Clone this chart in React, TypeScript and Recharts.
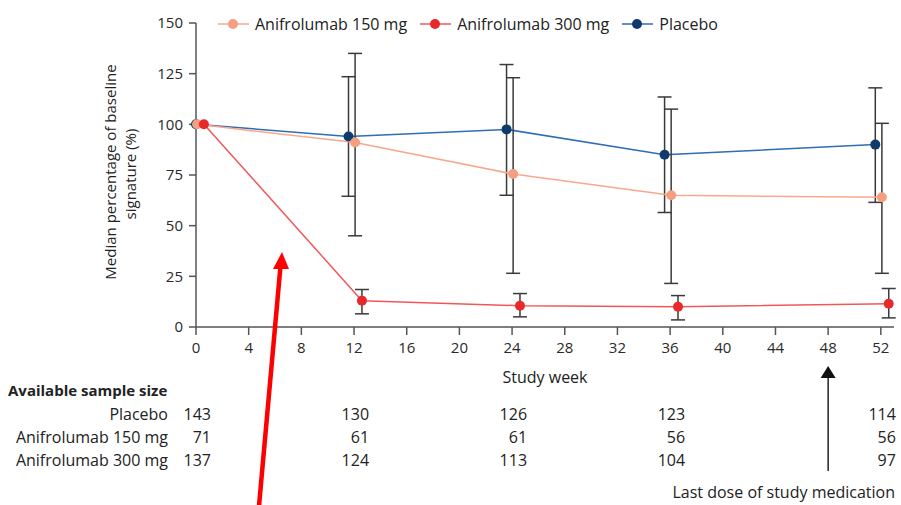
import React from 'react';
import { ComposedChart, Line, XAxis, YAxis, ErrorBar, Legend } from 'recharts';

const weeks = [0, 12, 24, 36, 52];
const xTicks = [0, 4, 8, 12, 16, 20, 24, 28, 32, 36, 40, 44, 48, 52];
const yTicks = [0, 25, 50, 75, 100, 125, 150];

const placeboMedian = [100, 94, 97.5, 85, 90];
const placeboLow = [null, 64.5, 65, 56.5, 61.5];
const placeboHigh = [null, 123.5, 129.5, 113.5, 118];

const a150Median = [100, 91, 75.5, 65, 64];
const a150Low = [null, 45, 26.5, 21.5, 26.5];
const a150High = [null, 135, 123, 107.5, 100.5];

const a300Median = [100, 13, 10.5, 10, 11.5];
const a300Low = [null, 6.5, 5, 3.5, 4.5];
const a300High = [null, 18.5, 16.5, 15.5, 19];

const nPlacebo = ['143', '130', '126', '123', '114'];
const n150 = ['71', '61', '61', '56', '56'];
const n300 = ['137', '124', '113', '104', '97'];

const lastDoseWeek = 48;

// style constants
const W = 901;
const H = 505;
const PLOT_LEFT = 196;
const PLOT_RIGHT = 894;
const PLOT_TOP = 23;
const PLOT_BOTTOM = 327;
const X_MAX = 53;
const FONT = "'Open Sans', 'Noto Sans', sans-serif";

const xScale = (w: number) => PLOT_LEFT + (w / X_MAX) * (PLOT_RIGHT - PLOT_LEFT);

const COLORS = {
  placebo: { line: '#2f6db5', dot: '#0f3a6c' },
  a150: { line: '#f8a88c', dot: '#f59f80' },
  a300: { line: '#f25757', dot: '#e8292b' },
};

const build = (
  median: number[],
  low: (number | null)[],
  high: (number | null)[],
  offset: number
) =>
  weeks.map((w, i) => {
    const lo = low[i];
    const hi = high[i];
    return {
      x: Math.max(0, w + offset),
      y: median[i],
      err: lo == null || hi == null ? undefined : [median[i] - lo, hi - median[i]],
    };
  });

const placeboData = build(placeboMedian, placeboLow, placeboHigh, -0.42);
const a150Data = build(a150Median, a150Low, a150High, 0.08);
const a300Data = build(a300Median, a300Low, a300High, 0.6);

const legendItems = [
  { label: 'Anifrolumab 150 mg', c: COLORS.a150 },
  { label: 'Anifrolumab 300 mg', c: COLORS.a300 },
  { label: 'Placebo', c: COLORS.placebo },
];

const LegendContent = () => (
  <div style={{ display: 'flex', alignItems: 'center', fontFamily: FONT, fontSize: 16, color: '#222', lineHeight: '20px' }}>
    {legendItems.map((it) => (
      <div key={it.label} style={{ display: 'flex', alignItems: 'center', marginRight: 13 }}>
        <svg width={31} height={12} style={{ marginRight: 6 }}>
          <line x1={0} y1={6} x2={31} y2={6} stroke={it.c.line} strokeWidth={1.5} />
          <circle cx={15} cy={6} r={5} fill={it.c.dot} />
        </svg>
        <span style={{ whiteSpace: 'nowrap' }}>{it.label}</span>
      </div>
    ))}
  </div>
);

const axisStroke = '#555';
const tickStyle = { fontSize: 15, fill: '#2a2a2a', fontFamily: FONT };

const rows = [
  { label: 'Placebo', values: nPlacebo },
  { label: 'Anifrolumab 150 mg', values: n150 },
  { label: 'Anifrolumab 300 mg', values: n300 },
];

export default function App() {
  return (
    <div style={{ position: 'absolute', left: 0, top: 0, width: W, height: H, background: '#fff', fontFamily: FONT }}>
      <ComposedChart
        width={W}
        height={H}
        margin={{ top: PLOT_TOP, right: W - PLOT_RIGHT, bottom: H - PLOT_BOTTOM - 30, left: PLOT_LEFT - 60 }}
      >
        <XAxis
          dataKey="x"
          type="number"
          domain={[0, X_MAX]}
          ticks={xTicks}
          interval={0}
          height={30}
          stroke={axisStroke}
          strokeWidth={1.5}
          tickSize={8}
          tickMargin={7}
          tick={tickStyle}
          allowDuplicatedCategory={false}
        />
        <YAxis
          type="number"
          domain={[0, 150]}
          ticks={yTicks}
          interval={0}
          width={60}
          stroke={axisStroke}
          strokeWidth={1.5}
          tickSize={7}
          tickMargin={6}
          tick={tickStyle}
        />
        <Legend
          verticalAlign="middle"
          align="center"
          wrapperStyle={{ top: 14, left: 218, width: 600 }}
          content={LegendContent}
        />
        <Line
          data={placeboData}
          dataKey="y"
          name="Placebo"
          stroke={COLORS.placebo.line}
          strokeWidth={1.5}
          dot={{ r: 5, fill: COLORS.placebo.dot, stroke: 'none' }}
          isAnimationActive={false}
        >
          <ErrorBar dataKey="err" direction="y" width={7} stroke="#3a3a3a" strokeWidth={1.5} />
        </Line>
        <Line
          data={a150Data}
          dataKey="y"
          name="Anifrolumab 150 mg"
          stroke={COLORS.a150.line}
          strokeWidth={1.5}
          dot={{ r: 5, fill: COLORS.a150.dot, stroke: 'none' }}
          isAnimationActive={false}
        >
          <ErrorBar dataKey="err" direction="y" width={7} stroke="#3a3a3a" strokeWidth={1.5} />
        </Line>
        <Line
          data={a300Data}
          dataKey="y"
          name="Anifrolumab 300 mg"
          stroke={COLORS.a300.line}
          strokeWidth={1.5}
          dot={{ r: 5, fill: COLORS.a300.dot, stroke: 'none' }}
          isAnimationActive={false}
        >
          <ErrorBar dataKey="err" direction="y" width={7} stroke="#3a3a3a" strokeWidth={1.5} />
        </Line>
      </ComposedChart>

      <svg
        width={W}
        height={H}
        style={{ position: 'absolute', left: 0, top: 0, pointerEvents: 'none', fontFamily: FONT }}
      >
        <text
          transform="translate(110,172) rotate(-90)"
          textAnchor="middle"
          dominantBaseline="central"
          fontSize={15}
          fill="#222"
        >
          Median percentage of baseline
        </text>
        <text
          transform="translate(130,174) rotate(-90)"
          textAnchor="middle"
          dominantBaseline="central"
          fontSize={15}
          fill="#222"
        >
          signature (%)
        </text>
        <text x={545} y={383} textAnchor="middle" fontSize={16} fill="#222">
          Study week
        </text>

        <text x={8} y={396} fontSize={15} fontWeight="bold" fill="#222">
          Available sample size
        </text>
        {rows.map((r, ri) => (
          <g key={r.label}>
            <text x={168} y={420 + ri * 23} textAnchor="end" fontSize={16} fill="#222">
              {r.label}
            </text>
            {r.values.map((v, i) => (
              <text key={i} x={xScale(weeks[i]) + 15} y={420 + ri * 23} textAnchor="end" fontSize={16} fill="#222">
                {v}
              </text>
            ))}
          </g>
        ))}

        <line x1={xScale(lastDoseWeek)} y1={471} x2={xScale(lastDoseWeek)} y2={376} stroke="#222" strokeWidth={1.5} />
        <polygon
          points={`${xScale(lastDoseWeek)},366 ${xScale(lastDoseWeek) - 7.5},378 ${xScale(lastDoseWeek) + 7.5},378`}
          fill="#111"
        />
        <text x={895} y={498} textAnchor="end" fontSize={16} fill="#222">
          Last dose of study medication
        </text>

        <line x1={259} y1={506} x2={280.5} y2={266} stroke="#ff0000" strokeWidth={4.5} />
        <polygon points="282,252 273,269 289,269" fill="#ff0000" />
      </svg>
    </div>
  );
}
